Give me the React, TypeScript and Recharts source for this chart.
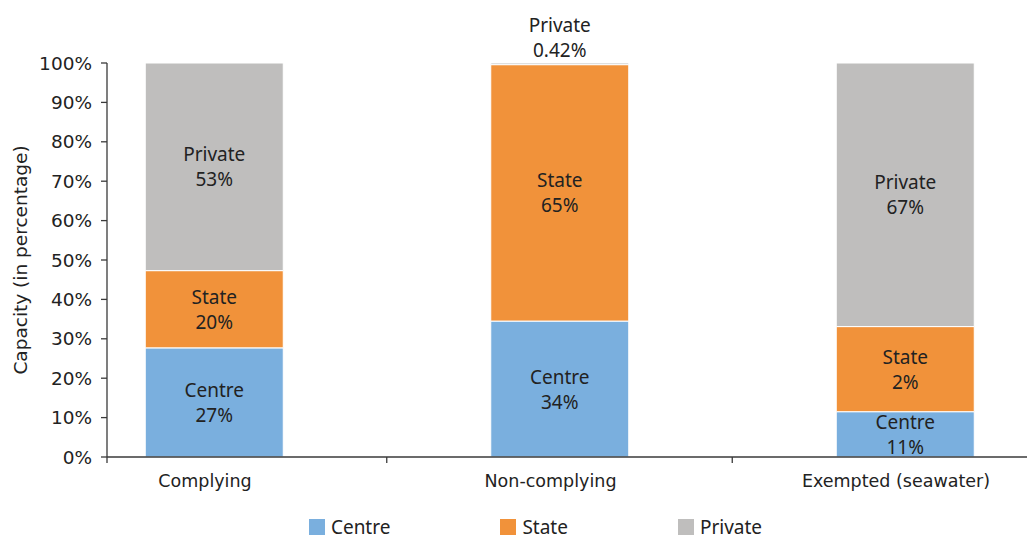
import React from 'react';
import { BarChart, Bar, XAxis, YAxis, Legend, LabelList } from 'recharts';

const categories = ['Complying', 'Non-complying', 'Exempted (seawater)'];
const centreValues = [27.7, 34.5, 11.5];
const stateValues = [19.6, 65.08, 21.6];
const privateValues = [52.7, 0.42, 66.9];
const centreLabels = ['27%', '34%', '11%'];
const stateLabels = ['20%', '65%', '2%'];
const privateLabels = ['53%', '0.42%', '67%'];
const yTicks = [0, 10, 20, 30, 40, 50, 60, 70, 80, 90, 100];
const seriesNames = ['Centre', 'State', 'Private'];

const COLORS = { Centre: '#7AAFDE', State: '#F1923A', Private: '#BFBEBD' };
const AXIS_COLOR = '#3a3a3a';
const TEXT_COLOR = '#222222';
const LABEL_FONT = '"Noto Sans", sans-serif';
const AXIS_FONT = '"DejaVu Sans", sans-serif';

const data = categories.map((name, i) => ({
  pos: i,
  name,
  Centre: centreValues[i],
  State: stateValues[i],
  Private: privateValues[i],
}));

// x ticks: band boundaries (half positions) and category centres (integers)
const xDomain: [number, number] = [-0.3097, 2.3531];
const xTicks = [xDomain[0], 0, 0.5, 1, 1.5, 2];

const XTick = (props: any) => {
  const { x, y, payload } = props;
  const v = payload.value;
  if (Number.isInteger(v)) {
    return (
      <text x={x} y={y + 24} dx={-9} textAnchor="middle" dominantBaseline="central"
        fontFamily={AXIS_FONT} fontSize={17.5} fill={TEXT_COLOR}>
        {categories[v]}
      </text>
    );
  }
  return <line x1={x} x2={x} y1={y} y2={y + 6} stroke={AXIS_COLOR} strokeWidth={1.3} />;
};

const makeLabel = (seriesName: string, labels: string[]) => (props: any) => {
  const { x, y, width, height, index } = props;
  const cx = x + width / 2;
  const small = Math.abs(height) < 20;
  const cy = small ? y - 26 : y + height / 2;
  return (
    <g>
      <text x={cx} y={cy - 12.5} textAnchor="middle" dominantBaseline="central"
        fontFamily={LABEL_FONT} fontSize={19} fill={TEXT_COLOR}>
        {seriesName}
      </text>
      <text x={cx} y={cy + 12.5} textAnchor="middle" dominantBaseline="central"
        fontFamily={LABEL_FONT} fontSize={19} fill={TEXT_COLOR}>
        {labels[index]}
      </text>
    </g>
  );
};

const YLabel = (props: any) => {
  const { viewBox } = props;
  const x = viewBox.x + 20;
  const y = viewBox.y + viewBox.height / 2;
  return (
    <text x={x} y={y} transform={`rotate(-90 ${x} ${y})`} textAnchor="middle"
      dominantBaseline="central" fontFamily={AXIS_FONT} fontSize={18.5} fill={TEXT_COLOR}>
      Capacity (in percentage)
    </text>
  );
};

const LegendContent = () => (
  <div style={{ display: 'flex', justifyContent: 'center', alignItems: 'center', height: 30, paddingLeft: 44 }}>
    {seriesNames.map((n, i) => (
      <div key={n} style={{ display: 'flex', alignItems: 'center', marginRight: i < seriesNames.length - 1 ? 110 : 0 }}>
        <div style={{ width: 16, height: 16, background: (COLORS as any)[n], marginRight: 6 }} />
        <span style={{ fontFamily: LABEL_FONT, fontSize: 19, color: TEXT_COLOR, lineHeight: '30px' }}>{n}</span>
      </div>
    ))}
  </div>
);

export default function App() {
  return (
    <div style={{ position: 'absolute', left: 0, top: 0, width: 1027, height: 540, background: '#fff' }}>
      <BarChart width={1027} height={540} data={data}
        margin={{ top: 63, right: 0, bottom: 8, left: 0 }}>
        <XAxis dataKey="pos" type="number" domain={xDomain} ticks={xTicks} allowDataOverflow
          interval={0} tickLine={false} tickSize={0} tickMargin={0} height={45}
          axisLine={{ stroke: AXIS_COLOR, strokeWidth: 1.3 }} tick={<XTick />} />
        <YAxis type="number" domain={[0, 100]} ticks={yTicks} interval={0} width={107}
          tickSize={6} tickMargin={9} tickFormatter={(v: number) => `${v}%`}
          tick={{ fontFamily: AXIS_FONT, fontSize: 18.5, fill: TEXT_COLOR }}
          tickLine={{ stroke: AXIS_COLOR, strokeWidth: 1.3 }}
          axisLine={{ stroke: AXIS_COLOR, strokeWidth: 1.3 }}
          label={<YLabel />} />
        <Legend verticalAlign="bottom" content={<LegendContent />}
          wrapperStyle={{ left: 0, width: 1027, bottom: -2 }} />
        {seriesNames.map((n) => {
          const labels = n === 'Centre' ? centreLabels : n === 'State' ? stateLabels : privateLabels;
          return (
            <Bar key={n} dataKey={n} stackId="a" fill={(COLORS as any)[n]} barSize={138}
              stroke="#ffffff" strokeWidth={1} isAnimationActive={false}>
              <LabelList dataKey={n} content={makeLabel(n, labels)} />
            </Bar>
          );
        })}
      </BarChart>
    </div>
  );
}
